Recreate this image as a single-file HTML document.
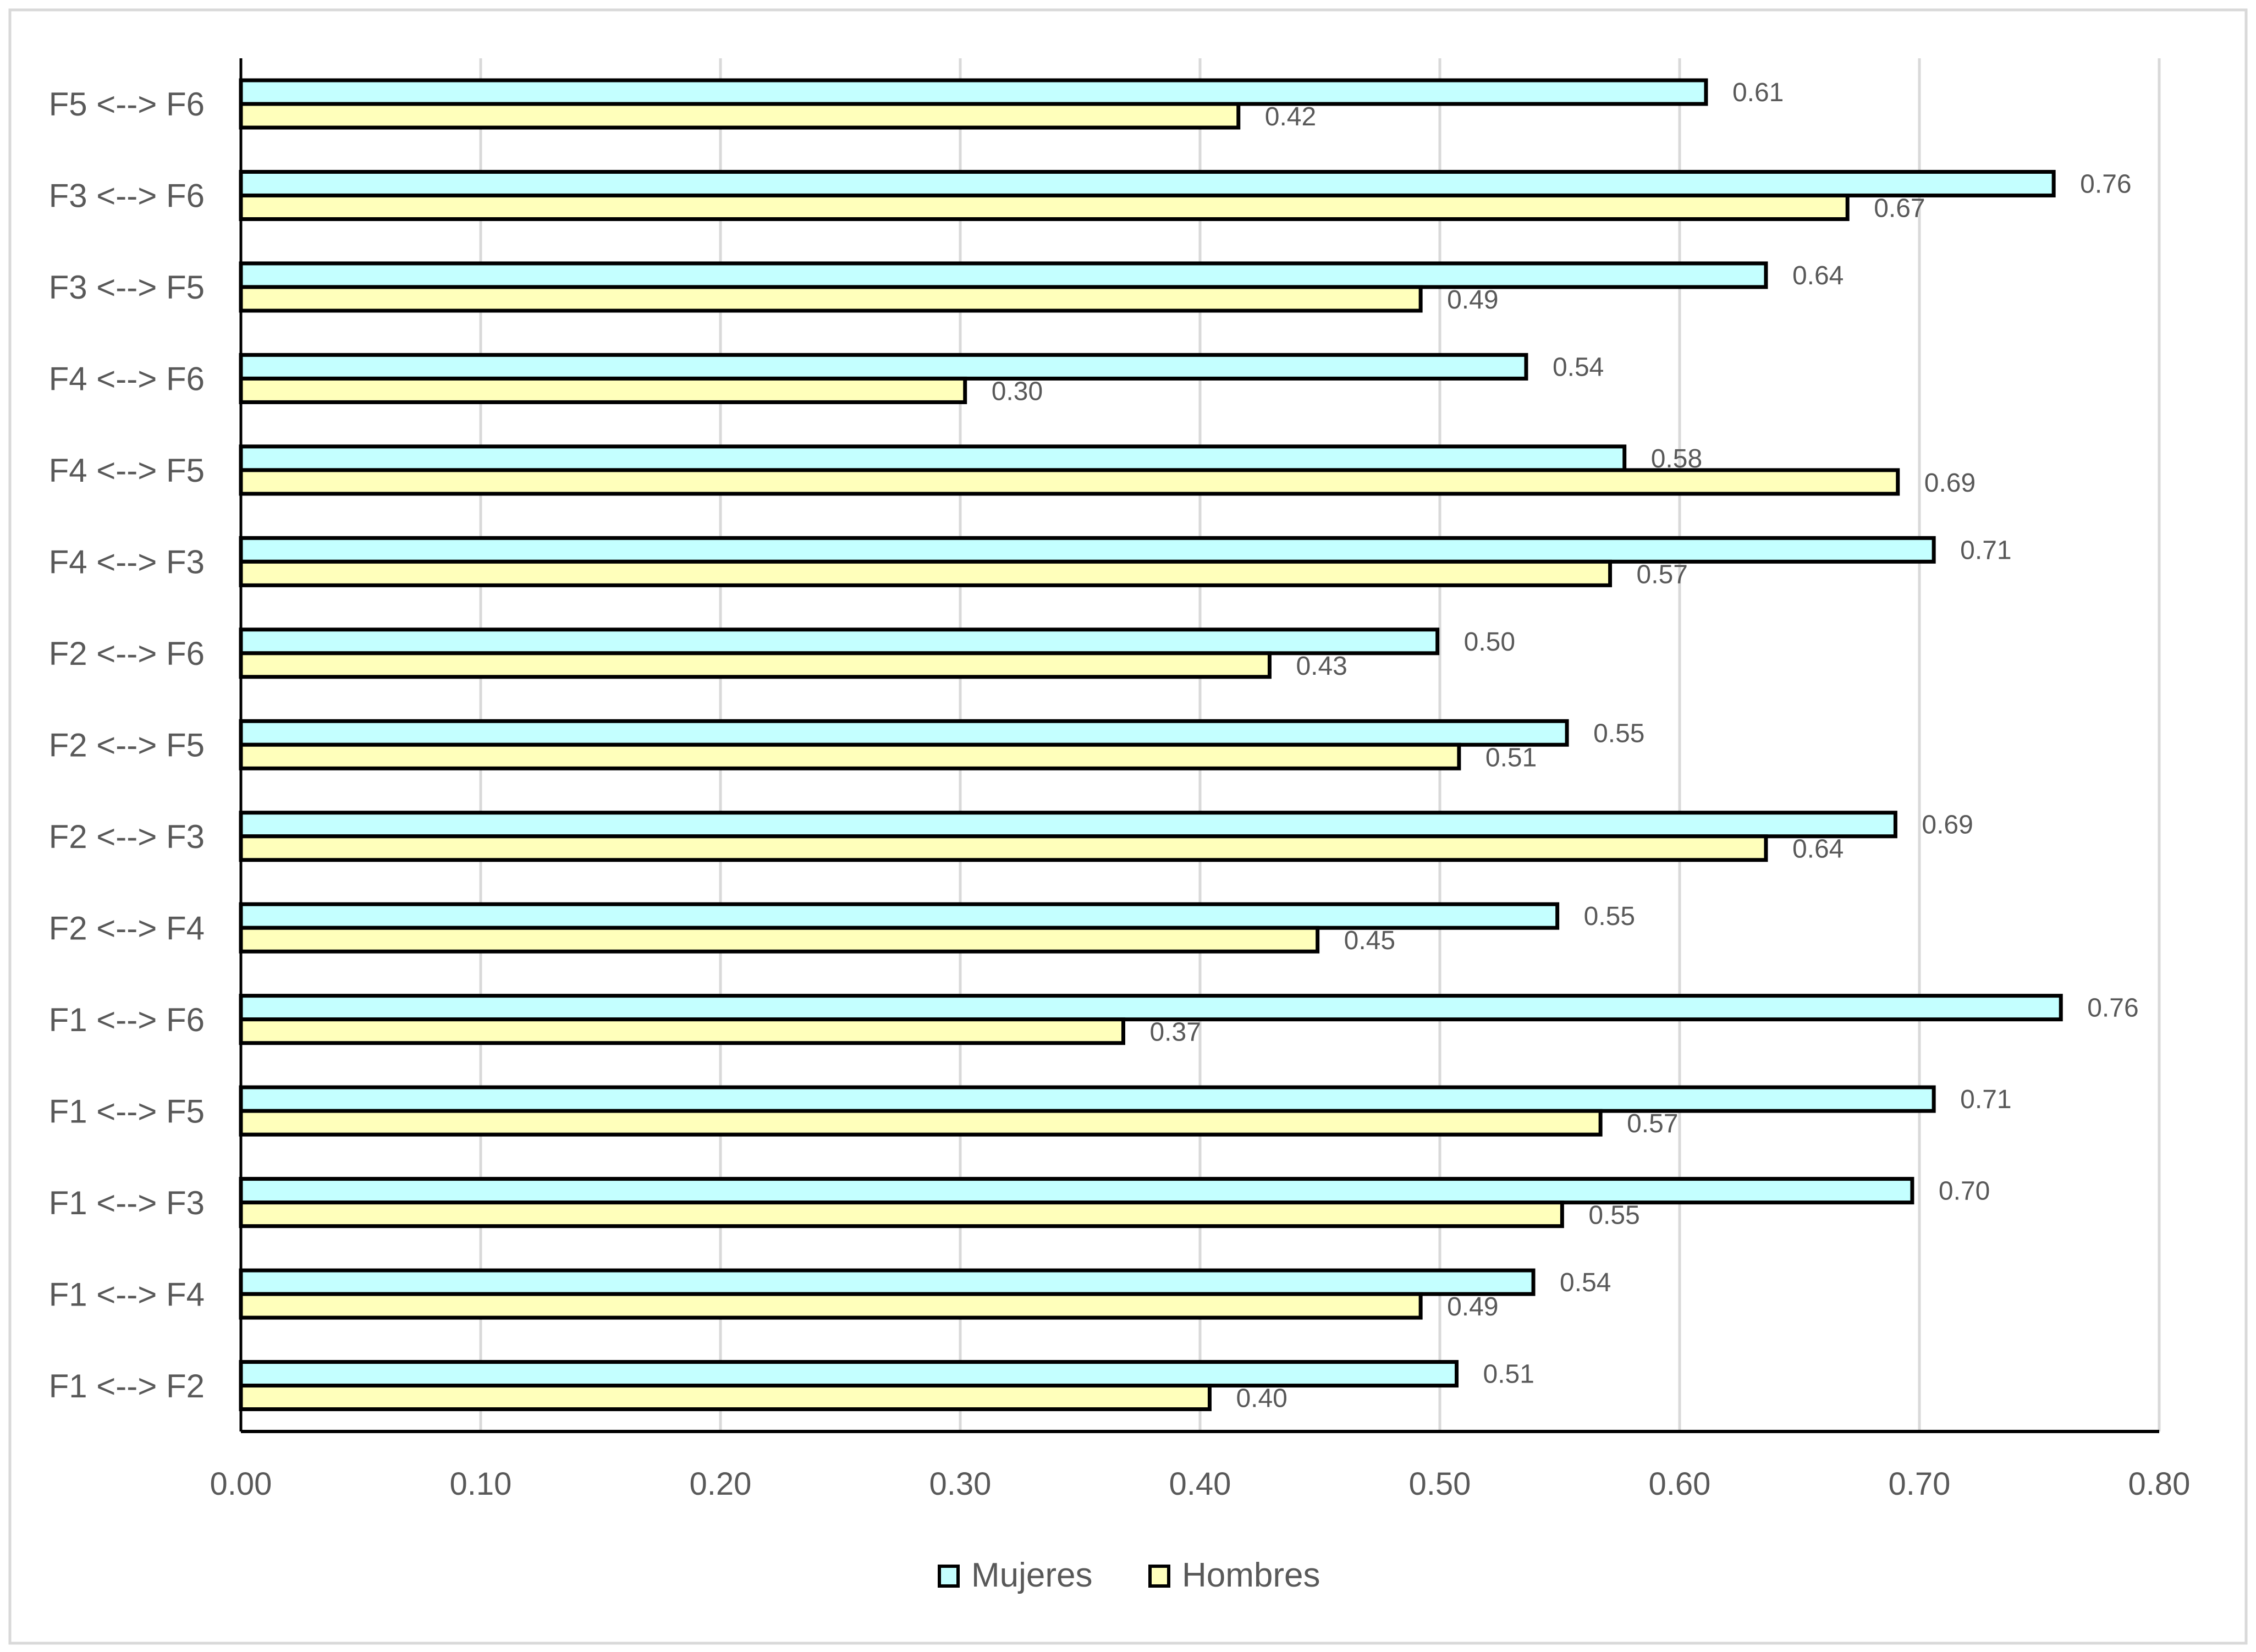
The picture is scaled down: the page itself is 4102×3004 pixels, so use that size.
<!DOCTYPE html>
<html><head><meta charset="utf-8"><style>
html,body{margin:0;padding:0;background:#fff;}
svg{display:block;font-family:"Liberation Sans",sans-serif;}
</style></head><body>
<svg id="chart" width="4102" height="3004" viewBox="0 0 4102 3004" xmlns="http://www.w3.org/2000/svg">
<rect x="18" y="18" width="4066" height="2970" fill="#fff" stroke="#d9d9d9" stroke-width="5"/>
<g id="grid"></g><g id="bars"></g><g id="labels"></g>
<g>
<rect x="1708" y="2848" width="34" height="36" fill="#c4ffff" stroke="#000" stroke-width="6"/>
<text x="1766" y="2885" font-size="62" fill="#595959">Mujeres</text>
<rect x="2091" y="2848" width="34" height="36" fill="#ffffbb" stroke="#000" stroke-width="6"/>
<text x="2149" y="2885" font-size="62" fill="#595959">Hombres</text>
</g>
</svg>
<script>
const categories = ["F5 <--> F6","F3 <--> F6","F3 <--> F5","F4 <--> F6","F4 <--> F5","F4 <--> F3","F2 <--> F6","F2 <--> F5","F2 <--> F3","F2 <--> F4","F1 <--> F6","F1 <--> F5","F1 <--> F3","F1 <--> F4","F1 <--> F2"];
const mujeres = [0.611,0.756,0.636,0.536,0.577,0.706,0.499,0.553,0.690,0.549,0.759,0.706,0.697,0.539,0.507];
const hombres = [0.416,0.670,0.492,0.302,0.691,0.571,0.429,0.508,0.636,0.449,0.368,0.567,0.551,0.492,0.404];
const ticks = [0,0.1,0.2,0.3,0.4,0.5,0.6,0.7,0.8];

const NS="http://www.w3.org/2000/svg";
const X0=438, X1=3926, Y0=106, Y1=2603, XMAX=0.8;
const band=(Y1-Y0)/categories.length;
const xs=v=>X0+(v/XMAX)*(X1-X0);
function mk(tag,attrs,parent,text){const e=document.createElementNS(NS,tag);for(const k in attrs)e.setAttribute(k,attrs[k]);if(text!==undefined)e.textContent=text;parent.appendChild(e);return e;}
const grid=document.getElementById('grid'),bars=document.getElementById('bars'),labels=document.getElementById('labels');
ticks.forEach((t,i)=>{
  if(i>0){const g=mk('line',{x1:xs(t),x2:xs(t),y1:Y0,y2:Y1,stroke:'#d9d9d9','stroke-width':5},grid);
  
  }
  const tl=mk('text',{x:xs(t),y:2718,'font-size':58,fill:'#595959','text-anchor':'middle'},labels,t.toFixed(2));
  
  
});
categories.forEach((c,i)=>{
  const top=Y0+i*band;
  const cl=mk('text',{x:372,y:top+band/2+21,'font-size':60,fill:'#595959','text-anchor':'end'},labels,c);
  
  
  const bm=mk('rect',{x:X0,y:top+40,width:xs(mujeres[i])-X0,height:43,fill:'#c4ffff',stroke:'#000','stroke-width':7},bars);
  
  
  const bh=mk('rect',{x:X0,y:top+83,width:xs(hombres[i])-X0,height:43,fill:'#ffffbb',stroke:'#000','stroke-width':7},bars);
  
  
  const lm=mk('text',{x:xs(mujeres[i])+48,y:top+78,'font-size':48,fill:'#595959'},labels,mujeres[i].toFixed(2));
  
  
  const lh=mk('text',{x:xs(hombres[i])+48,y:top+122,'font-size':48,fill:'#595959'},labels,hombres[i].toFixed(2));
  
  
});
const ya=mk('line',{x1:X0,x2:X0,y1:Y0,y2:Y1,stroke:'#000','stroke-width':5},bars);


const xa=mk('line',{x1:X0,x2:X1,y1:Y1,y2:Y1,stroke:'#000','stroke-width':6},bars);


</script>
</body></html>
